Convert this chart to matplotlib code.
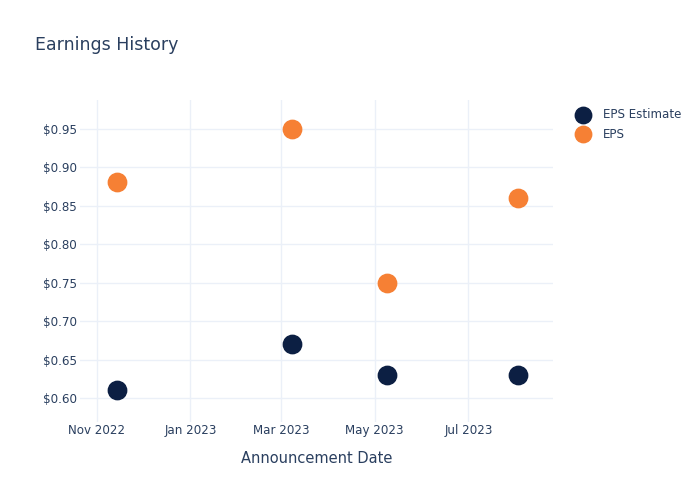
import matplotlib
matplotlib.use("Agg")
import matplotlib.pyplot as plt
import matplotlib.dates as mdates
import numpy as np

# announcement dates and EPS values
dates = np.array(["2022-11-14", "2023-03-08", "2023-05-09", "2023-08-02"], dtype="datetime64[D]")
eps_estimate = [0.61, 0.67, 0.63, 0.63]
eps_actual = [0.88, 0.95, 0.75, 0.86]
tick_dates = np.array(["2022-11-01", "2023-01-01", "2023-03-01", "2023-05-01", "2023-07-01"], dtype="datetime64[D]")
tick_labels = ["Nov 2022", "Jan 2023", "Mar 2023", "May 2023", "Jul 2023"]
y_ticks = [0.60, 0.65, 0.70, 0.75, 0.80, 0.85, 0.90, 0.95]

text_color = "#2a3f5f"
grid_color = "#ebf0f8"

plt.rcParams['font.family'] = ['DejaVu Sans']

fig = plt.figure(figsize=(7, 5), dpi=100)
ax = fig.add_axes([0.114, 0.156, 0.676, 0.644])

ax.scatter(dates, eps_estimate, s=175, color="#0c1f43", label="EPS Estimate", zorder=3)
ax.scatter(dates, eps_actual, s=175, color="#f68034", label="EPS", zorder=3)

ax.set_xlim(np.datetime64("2022-10-21"), np.datetime64("2023-08-25"))
ax.set_ylim(0.569, 0.987)
ax.set_xticks(tick_dates)
ax.set_xticklabels(tick_labels)
ax.set_yticks(y_ticks)
ax.set_yticklabels(["$%.2f" % v for v in y_ticks])

ax.grid(True, color=grid_color, linewidth=1)
ax.set_axisbelow(True)
for s in ax.spines.values():
    s.set_visible(False)
ax.tick_params(length=0, labelsize=8.6, colors=text_color)
ax.tick_params(axis="x", pad=1.5)
ax.tick_params(axis="y", pad=2)

ax.set_xlabel("Announcement Date", fontsize=10.5, color=text_color, labelpad=10)
fig.text(0.05, 0.9, "Earnings History", fontsize=12.5, color=text_color)

leg = ax.legend(loc="upper left", bbox_to_anchor=(1.028, 0.99), frameon=False,
                fontsize=8.6, labelcolor=text_color, handletextpad=0.7,
                borderaxespad=0, labelspacing=0.55)
for h in leg.legend_handles:
    h.set_sizes([140])

fig.savefig("out.png", dpi=100)
